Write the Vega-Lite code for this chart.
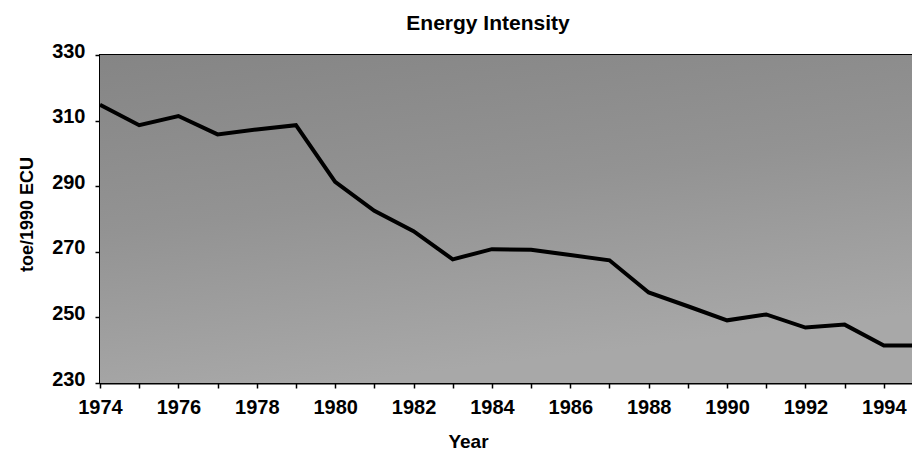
{
  "$schema": "https://vega.github.io/schema/vega-lite/v6.json",
  "width": 814,
  "height": 328,
  "autosize": {"type": "none"},
  "padding": {"left": 100, "top": 55, "right": 0, "bottom": 69},
  "background": "white",
  "title": {"text": "Energy Intensity", "font": "Liberation Sans", "fontSize": 21, "fontWeight": "bold", "color": "black", "offset": 7, "dx": -19},
  "config": {
    "view": {"stroke": "black", "strokeWidth": 2, "fill": "#999999"},
    "axis": {"labelFont": "Liberation Sans", "labelFontSize": 20, "labelFontWeight": "bold", "labelColor": "black", "titleFont": "Liberation Sans", "titleFontSize": 19, "titleFontWeight": "bold", "titleColor": "black", "domainColor": "black", "domainWidth": 2, "tickColor": "black", "tickWidth": 1.5, "grid": false}
  },
  "data": {"values": [
    {"Year": 1974, "v": 314.8},
    {"Year": 1975, "v": 308.6},
    {"Year": 1976, "v": 311.4},
    {"Year": 1977, "v": 305.8},
    {"Year": 1978, "v": 307.3},
    {"Year": 1979, "v": 308.6},
    {"Year": 1980, "v": 291.3},
    {"Year": 1981, "v": 282.5},
    {"Year": 1982, "v": 276.3},
    {"Year": 1983, "v": 267.7},
    {"Year": 1984, "v": 270.8},
    {"Year": 1985, "v": 270.6},
    {"Year": 1986, "v": 269.0},
    {"Year": 1987, "v": 267.4},
    {"Year": 1988, "v": 257.6},
    {"Year": 1989, "v": 253.4},
    {"Year": 1990, "v": 249.1},
    {"Year": 1991, "v": 250.9},
    {"Year": 1992, "v": 246.9},
    {"Year": 1993, "v": 247.8},
    {"Year": 1994, "v": 241.4},
    {"Year": 1995, "v": 241.4}
  ]},
  "layer": [
    {
      "mark": {"type": "rect", "color": {"gradient": "linear", "x1": 0, "y1": 0, "x2": 0.3, "y2": 1, "stops": [{"offset": 0, "color": "#858585"}, {"offset": 0.5, "color": "#939393"}, {"offset": 1, "color": "#a8a8a8"}]}},
      "encoding": {
        "x": {"datum": 1974, "type": "quantitative"},
        "x2": {"datum": 1994.77},
        "y": {"datum": 330, "type": "quantitative"},
        "y2": {"datum": 230}
      }
    },
    {
      "mark": {"type": "line", "color": "black", "strokeWidth": 4, "clip": true},
      "encoding": {
        "x": {"field": "Year", "type": "quantitative", "scale": {"domain": [1974, 1994.77], "nice": false, "zero": false},
          "axis": {"title": "Year", "values": [1974,1975,1976,1977,1978,1979,1980,1981,1982,1983,1984,1985,1986,1987,1988,1989,1990,1991,1992,1993,1994], "labelExpr": "datum.value % 2 == 0 ? format(datum.value, 'd') : ''", "tickSize": 5, "labelPadding": 9, "titleX": 368, "titleY": 49, "titleBaseline": "top", "labelFlush": false}},
        "y": {"field": "v", "type": "quantitative", "scale": {"domain": [230, 330], "nice": false, "zero": false},
          "axis": {"title": "toe/1990 ECU", "values": [230, 250, 270, 290, 310, 330], "tickSize": 5, "labelPadding": 10, "labelBaseline": "alphabetic", "labelOffset": 2, "titleX": -64, "titleY": 159, "titleFontSize": 18}}
      }
    }
  ]
}
